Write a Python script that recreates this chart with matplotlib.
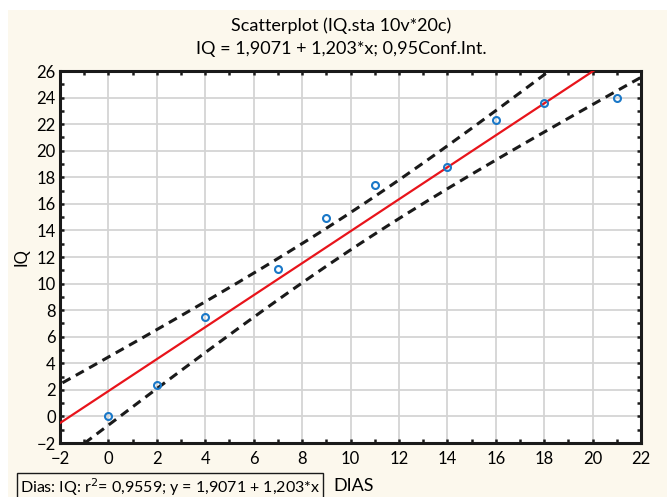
import numpy as np
import matplotlib.pyplot as plt
from matplotlib.patches import Rectangle
from matplotlib.ticker import MultipleLocator

plt.rcParams['font.family'] = ['Lato', 'DejaVu Sans']

# data
dias = np.array([0, 2, 4, 7, 9, 11, 14, 16, 18, 21])
iq = np.array([0.0, 2.4, 7.5, 11.1, 14.9, 17.4, 18.8, 22.3, 23.6, 24.0])
b0, b1 = 1.9071, 1.203
t_crit = 2.306  # t(0.975, df=8)

# confidence band for the regression line
xs = np.linspace(-3, 23, 200)
n = len(dias)
fit = b0 + b1 * dias
s = np.sqrt(np.sum((iq - fit) ** 2) / (n - 2))
sxx = np.sum((dias - dias.mean()) ** 2)
line = b0 + b1 * xs
half = t_crit * s * np.sqrt(1 / n + (xs - dias.mean()) ** 2 / sxx)

fig = plt.figure(figsize=(6.67, 4.97), dpi=100)
fig.patches.append(Rectangle((8 / 667, 0), 1, 1 - 10 / 497, transform=fig.transFigure,
                             facecolor='#fcf8ed', edgecolor='none', zorder=-10))
ax = fig.add_axes([60 / 667, 54 / 497, 581 / 667, 372 / 497])
ax.set_facecolor('white')

ax.plot(xs, line, color='#e8141b', lw=1.6, zorder=3)
ax.plot(xs, line + half, color='#1a1a1a', lw=2.2, ls=(0, (3, 2)), zorder=3)
ax.plot(xs, line - half, color='#1a1a1a', lw=2.2, ls=(0, (3, 2)), zorder=3)
ax.plot(dias, iq, 'o', ms=5, mfc='none', mec='#1a78c8', mew=1.5, zorder=4)

ax.set_xlim(-2, 22)
ax.set_ylim(-2, 26)
ax.xaxis.set_major_locator(MultipleLocator(2))
ax.yaxis.set_major_locator(MultipleLocator(2))
ax.xaxis.set_minor_locator(MultipleLocator(1))
ax.yaxis.set_minor_locator(MultipleLocator(1))
ax.grid(True, which='major', color='#d4d4d4', lw=1.3, zorder=0)
ax.set_axisbelow(True)
ax.tick_params(which='both', direction='in', top=True, right=True, color='#1a1a1a',
               width=1.8, length=3, labelsize=12)
ax.tick_params(axis='x', pad=6)
ax.tick_params(axis='y', pad=3)
for sp in ax.spines.values():
    sp.set_linewidth(2.2)
    sp.set_color('#1a1a1a')

ax.set_ylabel('IQ', fontsize=12, labelpad=5)
fig.text(341 / 667, 1 - 26 / 497, 'Scatterplot (IQ.sta 10v*20c)', ha='center', va='center', fontsize=13)
fig.text(341 / 667, 1 - 49 / 497, 'IQ = 1,9071 + 1,203*x; 0,95Conf.Int.', ha='center', va='center', fontsize=13)

fig.text(20 / 667, 1 - 487 / 497, 'Dias: IQ: r$^2$= 0,9559; y = 1,9071 + 1,203*x',
         ha='left', va='center', fontsize=11.5,
         bbox=dict(boxstyle='square,pad=0.2', facecolor='none', edgecolor='#1a1a1a', lw=1))
fig.text(333 / 667, 1 - 486 / 497, 'DIAS', ha='left', va='center', fontsize=13)

fig.savefig('out.png', dpi=100)
